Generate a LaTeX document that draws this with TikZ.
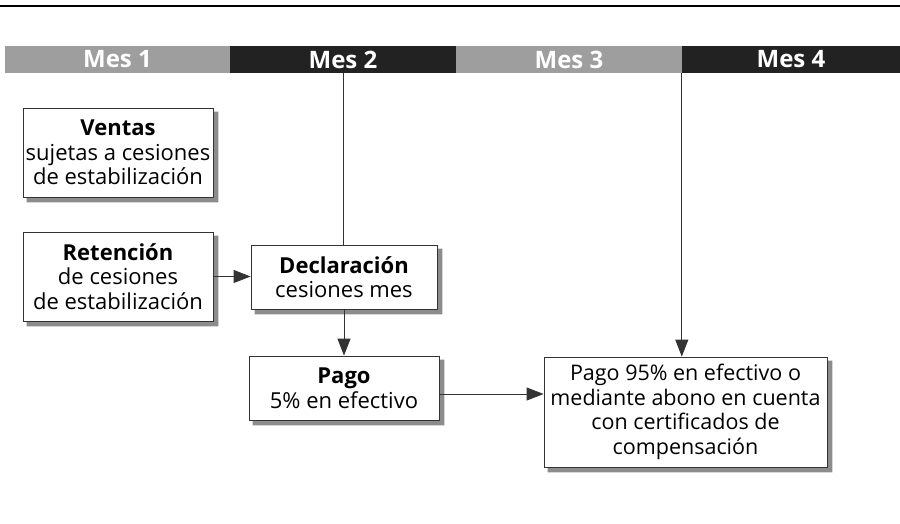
\documentclass[tikz,border=0pt]{standalone}
\usepackage{fontspec}
\setmainfont{Open Sans}
\usetikzlibrary{positioning,arrows.meta,calc}
\definecolor{mesgris}{HTML}{9E9E9E}
\definecolor{mesnegro}{HTML}{222222}
\definecolor{linea}{HTML}{333333}
\definecolor{sombra}{HTML}{8C8C8C}
\pgfdeclarelayer{fondo}
\pgfsetlayers{fondo,main}

\begin{document}
\begin{tikzpicture}[x=1pt, y=-1pt,
	mes/.style={minimum width=#1, minimum height=27pt, inner sep=0pt,
	text=white, font=\fontsize{24}{26}\selectfont\bfseries},
	caja/.style={draw=linea, line width=0.8pt, fill=white, align=center,
	inner sep=0pt, font=\fontsize{22}{24.5}\selectfont},
	flecha/.style={draw=linea, line width=0.8pt, -{Triangle[length=17pt,width=13pt]}},
	tit/.style={font=\fontsize{22}{24}\selectfont\bfseries}]
\useasboundingbox (0,0) rectangle (900,523);
\draw[line width=2.5pt] (0,6) -- (900,6);
% meses
\node[mes=225pt, fill=mesgris] (m1) at (117.5, 59.5) {Mes 1};
\node[mes=226pt, fill=mesnegro] (m2) at (343, 59.5) {Mes 2};
\node[mes=226pt, fill=mesgris] (m3) at (569, 59.5) {Mes 3};
\node[mes=218pt, fill=mesnegro] (m4) at (791, 59.5) {Mes 4};
% cajas
\node[caja, minimum width=190pt, minimum height=89pt] (ventas) at (118, 152.5)
	{{\fontsize{22}{24}\selectfont\bfseries Ventas}\\sujetas a cesiones\\de estabilización};
\node[caja, minimum width=190pt, minimum height=89pt] (reten) at (118, 276.5)
	{{\fontsize{22}{24}\selectfont\bfseries Retención}\\de cesiones\\de estabilización};
\node[caja, minimum width=186pt, minimum height=64pt] (decl) at (344, 277)
	{{\fontsize{22}{24}\selectfont\bfseries Declaración}\\cesiones mes};
\node[caja, minimum width=190pt, minimum height=64pt] (pago) at (344, 388)
	{{\fontsize{22}{24}\selectfont\bfseries Pago}\\5\% en efectivo};
\node[caja, minimum width=283pt, minimum height=110pt, font=\fontsize{21.5}{24.5}\selectfont] (pagob) at (685.5, 412)
	{Pago 95\% en efectivo o\\mediante abono en cuenta\\con certificados de\\compensación};
% sombras
\begin{pgfonlayer}{fondo}
\foreach \c in {ventas,reten,decl,pago,pagob}
	\fill[sombra] ($(\c.north east)+(0,4)$) rectangle ($(\c.south east)+(5,5)$)
		($(\c.south west)+(4,0)$) rectangle ($(\c.south east)+(5,5)$);
\end{pgfonlayer}
% lineas
\draw[draw=linea, line width=0.8pt] (m2.south) -- (m2.south |- decl.north);
\draw[flecha] (m4.south west) -- (m4.south west |- pagob.north);
\draw[flecha] (reten.east) -- (reten.east -| decl.west);
\draw[flecha] (decl.south) -- (pago.north);
\draw[flecha] ([yshift=-6pt]pago.east) -- ([yshift=-6pt]pago.east -| pagob.west);
\end{tikzpicture}
\end{document}
